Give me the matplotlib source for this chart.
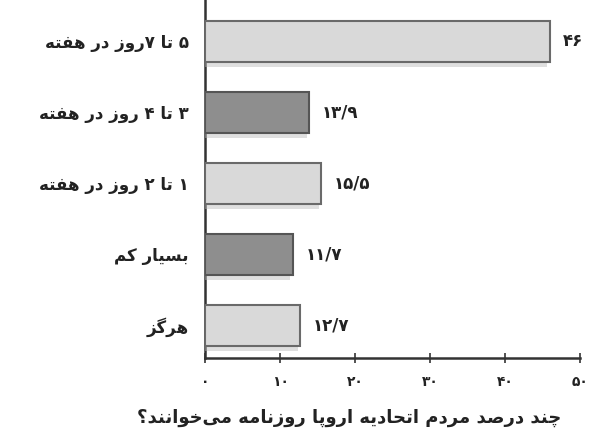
import matplotlib.pyplot as plt
import matplotlib.patheffects as pe

# --- data ---
categories = ["۵ تا ۷روز در هفته", "۳ تا ۴ روز در هفته", "۱ تا ۲ روز در هفته", "بسیار کم", "هرگز"]
values = [46, 13.9, 15.5, 11.7, 12.7]
value_labels = ["۴۶", "۱۳/۹", "۱۵/۵", "۱۱/۷", "۱۲/۷"]
xticks = [0, 10, 20, 30, 40, 50]
xtick_labels = ["۰", "۱۰", "۲۰", "۳۰", "۴۰", "۵۰"]
title = "چند درصد مردم اتحادیه اروپا روزنامه می\u200cخوانند؟"

# --- tiny persian shaper (matplotlib has no arabic shaping / bidi) ---
FORMS = {
    "ا": ("\uFE8D", "\uFE8E"), "د": ("\uFEA9", "\uFEAA"), "ر": ("\uFEAD", "\uFEAE"),
    "ز": ("\uFEAF", "\uFEB0"), "و": ("\uFEED", "\uFEEE"),
    "ب": ("\uFE8F", "\uFE90", "\uFE91", "\uFE92"), "پ": ("\uFB56", "\uFB57", "\uFB58", "\uFB59"),
    "ت": ("\uFE95", "\uFE96", "\uFE97", "\uFE98"), "چ": ("\uFB7A", "\uFB7B", "\uFB7C", "\uFB7D"),
    "ح": ("\uFEA1", "\uFEA2", "\uFEA3", "\uFEA4"), "خ": ("\uFEA5", "\uFEA6", "\uFEA7", "\uFEA8"),
    "س": ("\uFEB1", "\uFEB2", "\uFEB3", "\uFEB4"), "ص": ("\uFEB9", "\uFEBA", "\uFEBB", "\uFEBC"),
    "ف": ("\uFED1", "\uFED2", "\uFED3", "\uFED4"), "ک": ("\uFB8E", "\uFB8F", "\uFB90", "\uFB91"),
    "گ": ("\uFB92", "\uFB93", "\uFB94", "\uFB95"), "م": ("\uFEE1", "\uFEE2", "\uFEE3", "\uFEE4"),
    "ن": ("\uFEE5", "\uFEE6", "\uFEE7", "\uFEE8"), "ه": ("\uFEE9", "\uFEEA", "\uFEEB", "\uFEEC"),
    "ی": ("\uFBFC", "\uFBFD", "\uFBFE", "\uFBFF"),
}


def fa(s):
    out = []
    for i, c in enumerate(s):
        if c == "\u200c":
            continue
        if c not in FORMS:
            out.append(c)
            continue
        f = FORMS[c]
        prev = s[i - 1] if i > 0 else ""
        nxt = s[i + 1] if i + 1 < len(s) else ""
        jp = prev in FORMS and len(FORMS[prev]) == 4
        jn = len(f) == 4 and nxt in FORMS
        if jp and jn:
            out.append(f[3])
        elif jp:
            out.append(f[1])
        elif jn:
            out.append(f[2])
        else:
            out.append(f[0])
    # reverse for rtl, keep digit runs left-to-right
    rev = out[::-1]
    res, run = [], []
    for c in rev:
        if c in "۰۱۲۳۴۵۶۷۸۹/":
            run.append(c)
        else:
            res.extend(run[::-1])
            run = []
            res.append(c)
    res.extend(run[::-1])
    return "".join(res)


plt.rcParams["font.family"] = ["DejaVu Sans"]

fig = plt.figure(figsize=(5.95, 4.38), dpi=100)
ax = fig.add_axes([0.345, 0.183, 0.63, 0.817])

pos = list(range(len(categories)))[::-1]
fills = ["#d9d9d9", "#8e8e8e", "#d9d9d9", "#8e8e8e", "#d9d9d9"]
edges = ["#6a6a6a", "#555555", "#6a6a6a", "#555555", "#6a6a6a"]
bars = ax.barh(pos, values, height=0.58, color=fills, edgecolor=edges, linewidth=1.5, zorder=3)
for b in bars:
    b.set_path_effects([pe.SimplePatchShadow(offset=(-2, -4), shadow_rgbFace="#b8b8b8", alpha=0.45), pe.Normal()])

for p, v, lab in zip(pos, values, value_labels):
    ax.annotate(fa(lab), (v, p), xytext=(9, 0), textcoords="offset points",
                va="center", ha="left", fontsize=12, fontweight="bold", color="#222222")

ax.set_xlim(0, 50)
ax.set_ylim(-0.46, 4.58)
ax.set_xticks(xticks)
ax.set_xticklabels([fa(t) for t in xtick_labels], fontsize=10, fontweight="bold", color="#222222")
ax.set_yticks(pos)
ax.set_yticklabels([fa(c) for c in categories], fontsize=12, fontweight="bold", color="#222222")
ax.tick_params(axis="y", length=0, pad=12)
ax.tick_params(axis="x", direction="inout", length=7, width=1.3, pad=9, color="#444444")

for s in ["top", "right"]:
    ax.spines[s].set_visible(False)
ax.spines["left"].set_linewidth(1.8)
ax.spines["bottom"].set_linewidth(1.8)
ax.spines["left"].set_color("#333333")
ax.spines["bottom"].set_color("#333333")

fig.text(0.587, 0.046, fa(title), ha="center", va="center", fontsize=13, fontweight="bold", color="#222222")

fig.savefig("out.png", dpi=100)
